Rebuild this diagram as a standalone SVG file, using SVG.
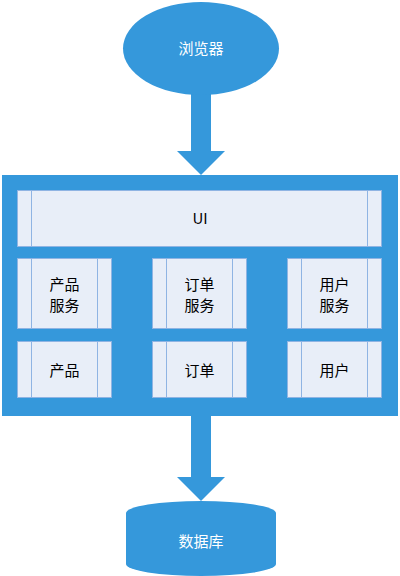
<svg xmlns="http://www.w3.org/2000/svg" width="400" height="576" viewBox="0 0 400 576">
<style>
.blue{fill:#3598DB;}
.box{fill:#E8EEF8;stroke:#8FB4E3;stroke-width:1;}
.ln{stroke:#8FB4E3;stroke-width:1;}
.t{font-family:"Noto Sans CJK SC","Liberation Sans",sans-serif;font-size:15px;text-anchor:middle;fill:#000;}
.w{fill:#fff;}
</style>
<rect width="400" height="576" fill="#fff"/>
<g id="connectors">
<polygon class="blue" points="191,94 211,94 211,151 225,151 201,175 177,151 191,151"/>
<polygon class="blue" points="191,415 211,415 211,477 225,477 201,501 177,477 191,477"/>
</g>
<g id="browser">
<ellipse class="blue" cx="201" cy="48.5" rx="78" ry="46.5"/>
<text class="t w" x="201" y="54">浏览器</text>
</g>
<g id="container">
<rect class="blue" x="2" y="175" width="396" height="241"/>
</g>
<g id="ui">
<rect class="box" x="17.5" y="190.5" width="364" height="56"/>
<line class="ln" x1="31.5" y1="190.5" x2="31.5" y2="246.5"/>
<line class="ln" x1="367.5" y1="190.5" x2="367.5" y2="246.5"/>
<text class="t" x="200" y="224" font-family="Liberation Sans">UI</text>
</g>
<g id="product-service">
<rect class="box" x="17.5" y="258.5" width="94" height="70"/>
<line class="ln" x1="31.5" y1="258.5" x2="31.5" y2="328.5"/>
<line class="ln" x1="97.5" y1="258.5" x2="97.5" y2="328.5"/>
<text class="t" x="64.5" y="290">产品</text>
<text class="t" x="64.5" y="311">服务</text>
</g>
<g id="order-service">
<rect class="box" x="152.5" y="258.5" width="94" height="70"/>
<line class="ln" x1="166.5" y1="258.5" x2="166.5" y2="328.5"/>
<line class="ln" x1="232.5" y1="258.5" x2="232.5" y2="328.5"/>
<text class="t" x="199.5" y="290">订单</text>
<text class="t" x="199.5" y="311">服务</text>
</g>
<g id="user-service">
<rect class="box" x="287.5" y="258.5" width="94" height="70"/>
<line class="ln" x1="301.5" y1="258.5" x2="301.5" y2="328.5"/>
<line class="ln" x1="367.5" y1="258.5" x2="367.5" y2="328.5"/>
<text class="t" x="334.5" y="290">用户</text>
<text class="t" x="334.5" y="311">服务</text>
</g>
<g id="product">
<rect class="box" x="17.5" y="341.5" width="94" height="56"/>
<line class="ln" x1="31.5" y1="341.5" x2="31.5" y2="397.5"/>
<line class="ln" x1="97.5" y1="341.5" x2="97.5" y2="397.5"/>
<text class="t" x="64.5" y="376">产品</text>
</g>
<g id="order">
<rect class="box" x="152.5" y="341.5" width="94" height="56"/>
<line class="ln" x1="166.5" y1="341.5" x2="166.5" y2="397.5"/>
<line class="ln" x1="232.5" y1="341.5" x2="232.5" y2="397.5"/>
<text class="t" x="199.5" y="376">订单</text>
</g>
<g id="user">
<rect class="box" x="287.5" y="341.5" width="94" height="56"/>
<line class="ln" x1="301.5" y1="341.5" x2="301.5" y2="397.5"/>
<line class="ln" x1="367.5" y1="341.5" x2="367.5" y2="397.5"/>
<text class="t" x="334.5" y="376">用户</text>
</g>
<g id="database">
<path class="blue" d="M126,513 A75,12 0 0 1 276,513 L276,564 A75,12 0 0 1 126,564 Z"/>
<text class="t w" x="201" y="547">数据库</text>
</g>
</svg>
